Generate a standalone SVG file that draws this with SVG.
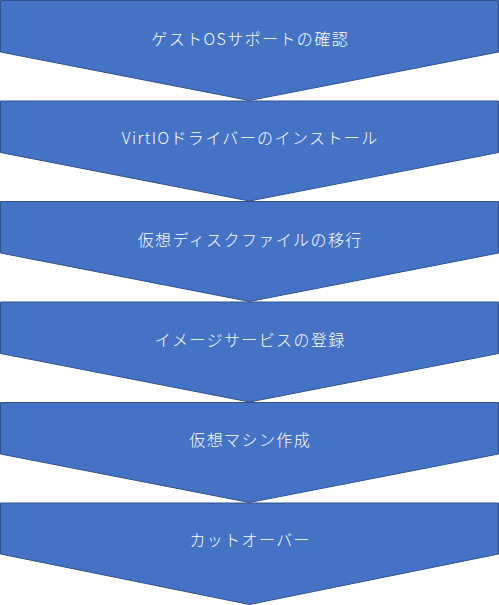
<svg xmlns="http://www.w3.org/2000/svg" width="499" height="605" viewBox="0 0 499 605">
<style>
.c{fill:#4472C4;stroke:#2F528F;stroke-width:1}
.t{fill:#FFFFFF;font-family:"Noto Sans CJK JP","Noto Sans",sans-serif;font-size:16px;font-weight:300;letter-spacing:1.4px;text-anchor:middle}
</style>
<rect width="499" height="605" fill="#FFFFFF"/>
<g id="connectors"></g>
<g id="n1"><path class="c" d="M0.5,0.5 H498.5 V52 L249.5,100.5 L0.5,52 Z"/><text class="t" x="250.2" y="45">ゲストOSサポートの確認</text></g>
<g id="n2"><path class="c" d="M0.5,101 H498.5 V152.5 L249.5,201 L0.5,152.5 Z"/><text class="t" x="250.2" y="144">VirtIOドライバーのインストール</text></g>
<g id="n3"><path class="c" d="M0.5,201.5 H498.5 V253 L249.5,301.5 L0.5,253 Z"/><text class="t" x="250.2" y="245.5">仮想ディスクファイルの移行</text></g>
<g id="n4"><path class="c" d="M0.5,302 H498.5 V353.5 L249.5,402 L0.5,353.5 Z"/><text class="t" x="250.2" y="345.5">イメージサービスの登録</text></g>
<g id="n5"><path class="c" d="M0.5,402.5 H498.5 V454 L249.5,502.5 L0.5,454 Z"/><text class="t" x="250.2" y="445.5">仮想マシン作成</text></g>
<g id="n6"><path class="c" d="M0.5,503 H498.5 V554 L249.5,604.5 L0.5,554 Z"/><text class="t" x="250.2" y="545.5">カットオーバー</text></g>
</svg>
